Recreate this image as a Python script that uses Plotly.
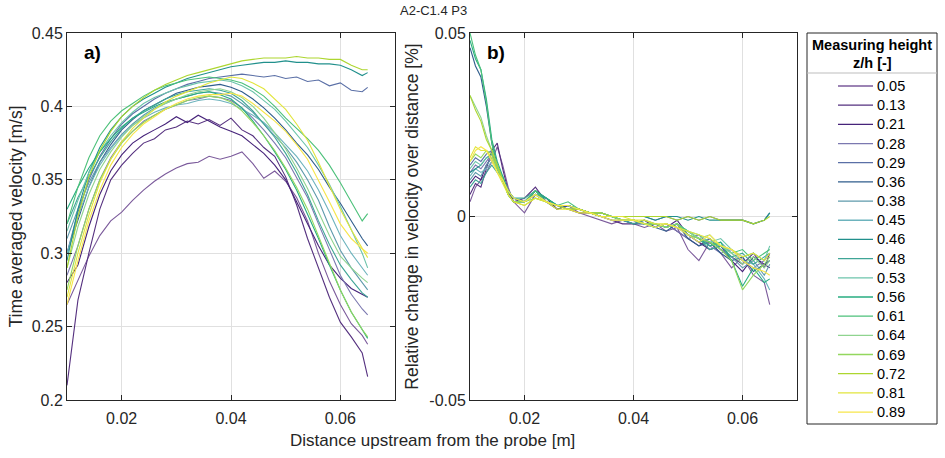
import plotly.graph_objects as go

# ---------------- data ----------------
heights = ["0.05", "0.13", "0.21", "0.28", "0.29", "0.36", "0.38", "0.45", "0.46",
           "0.48", "0.53", "0.56", "0.61", "0.64", "0.69", "0.72", "0.81", "0.89"]

x_a = [0.010, 0.012, 0.014, 0.016, 0.018, 0.020, 0.022, 0.024, 0.026, 0.028,
       0.030, 0.032, 0.034, 0.036, 0.038, 0.040, 0.042, 0.044, 0.046, 0.048,
       0.050, 0.052, 0.054, 0.056, 0.058, 0.060, 0.062, 0.064, 0.065]

vel = [
    [0.265,0.282,0.298,0.312,0.322,0.328,0.336,0.343,0.349,0.354,0.358,0.361,0.362,0.366,0.364,0.366,0.369,0.361,0.351,0.356,0.349,0.338,0.322,0.300,0.281,0.265,0.252,0.244,0.238],
    [0.210,0.268,0.300,0.330,0.350,0.360,0.368,0.375,0.378,0.384,0.386,0.390,0.388,0.391,0.387,0.392,0.384,0.380,0.372,0.366,0.352,0.333,0.310,0.290,0.270,0.253,0.243,0.232,0.216],
    [0.280,0.292,0.318,0.340,0.356,0.367,0.375,0.380,0.384,0.388,0.393,0.389,0.394,0.390,0.386,0.383,0.380,0.374,0.368,0.360,0.350,0.335,0.320,0.305,0.292,0.283,0.276,0.272,0.270],
    [0.285,0.305,0.330,0.350,0.365,0.376,0.383,0.390,0.394,0.398,0.401,0.404,0.405,0.407,0.406,0.404,0.399,0.392,0.384,0.375,0.365,0.352,0.338,0.320,0.302,0.285,0.272,0.262,0.258],
    [0.300,0.328,0.350,0.366,0.378,0.388,0.395,0.400,0.405,0.409,0.412,0.415,0.417,0.419,0.420,0.421,0.422,0.421,0.420,0.421,0.419,0.420,0.417,0.418,0.414,0.416,0.411,0.410,0.413],
    [0.300,0.322,0.345,0.362,0.374,0.384,0.391,0.397,0.401,0.405,0.409,0.411,0.413,0.414,0.415,0.413,0.410,0.405,0.399,0.392,0.384,0.375,0.367,0.357,0.345,0.334,0.322,0.310,0.305],
    [0.310,0.330,0.348,0.362,0.372,0.381,0.388,0.394,0.399,0.402,0.405,0.407,0.409,0.410,0.409,0.407,0.402,0.396,0.388,0.380,0.372,0.362,0.350,0.336,0.318,0.302,0.290,0.280,0.275],
    [0.300,0.325,0.345,0.360,0.371,0.380,0.387,0.392,0.396,0.399,0.401,0.402,0.404,0.405,0.404,0.402,0.398,0.394,0.389,0.382,0.374,0.366,0.356,0.343,0.328,0.312,0.300,0.290,0.285],
    [0.295,0.330,0.355,0.372,0.384,0.393,0.400,0.405,0.409,0.413,0.416,0.419,0.421,0.423,0.425,0.427,0.428,0.429,0.430,0.430,0.431,0.430,0.430,0.429,0.429,0.428,0.425,0.421,0.423],
    [0.320,0.338,0.352,0.365,0.376,0.385,0.392,0.397,0.401,0.405,0.408,0.410,0.411,0.412,0.411,0.409,0.404,0.397,0.388,0.379,0.368,0.355,0.340,0.322,0.306,0.292,0.282,0.273,0.270],
    [0.315,0.336,0.355,0.369,0.380,0.389,0.396,0.402,0.406,0.409,0.412,0.414,0.416,0.417,0.418,0.417,0.414,0.410,0.404,0.398,0.390,0.381,0.372,0.360,0.347,0.332,0.316,0.300,0.290],
    [0.330,0.345,0.358,0.369,0.378,0.386,0.392,0.396,0.400,0.403,0.405,0.407,0.409,0.410,0.408,0.405,0.399,0.390,0.380,0.369,0.357,0.343,0.327,0.310,0.292,0.275,0.260,0.248,0.242],
    [0.320,0.345,0.365,0.380,0.390,0.397,0.402,0.407,0.411,0.414,0.416,0.418,0.419,0.420,0.419,0.418,0.416,0.412,0.407,0.400,0.392,0.385,0.378,0.370,0.360,0.348,0.335,0.322,0.327],
    [0.290,0.318,0.340,0.357,0.369,0.379,0.387,0.393,0.398,0.402,0.405,0.408,0.410,0.411,0.412,0.410,0.406,0.400,0.392,0.382,0.371,0.358,0.344,0.328,0.312,0.298,0.290,0.283,0.280],
    [0.275,0.305,0.330,0.350,0.364,0.375,0.383,0.389,0.394,0.398,0.401,0.404,0.406,0.407,0.406,0.403,0.397,0.389,0.380,0.370,0.358,0.345,0.330,0.312,0.293,0.275,0.260,0.248,0.243],
    [0.290,0.325,0.352,0.370,0.383,0.393,0.400,0.406,0.411,0.415,0.418,0.421,0.423,0.425,0.427,0.429,0.431,0.432,0.433,0.433,0.433,0.434,0.433,0.433,0.432,0.432,0.428,0.425,0.425],
    [0.270,0.300,0.326,0.348,0.364,0.376,0.385,0.392,0.398,0.403,0.407,0.410,0.413,0.416,0.418,0.420,0.419,0.416,0.412,0.405,0.398,0.388,0.377,0.362,0.346,0.330,0.316,0.303,0.297],
    [0.265,0.295,0.322,0.343,0.360,0.372,0.381,0.388,0.393,0.398,0.402,0.405,0.407,0.408,0.408,0.409,0.407,0.402,0.396,0.390,0.383,0.374,0.364,0.350,0.335,0.320,0.310,0.303,0.300],
]

x_b = [0.010, 0.011, 0.012, 0.013, 0.014, 0.015, 0.016, 0.017, 0.018, 0.020,
       0.022, 0.024, 0.026, 0.028, 0.030, 0.032, 0.034, 0.036, 0.038, 0.040,
       0.042, 0.044, 0.046, 0.048, 0.050, 0.052, 0.054, 0.056, 0.058, 0.060,
       0.062, 0.064, 0.065]

rel = [
    [0.004,0.008,0.010,0.012,0.015,0.019,0.014,0.008,0.004,0.001,0.006,0.004,0.002,0.003,0.001,0.000,-0.001,-0.002,-0.001,-0.002,-0.003,-0.002,-0.004,-0.003,-0.009,-0.012,-0.007,-0.010,-0.014,-0.011,-0.016,-0.018,-0.024],
    [0.006,0.009,0.008,0.013,0.018,0.020,0.013,0.007,0.004,0.005,0.008,0.004,0.003,0.002,0.001,0.001,0.000,-0.001,-0.002,-0.002,-0.001,-0.003,-0.002,-0.004,-0.006,-0.008,-0.006,-0.009,-0.011,-0.013,-0.010,-0.014,-0.010],
    [0.009,0.011,0.010,0.014,0.016,0.013,0.010,0.006,0.005,0.004,0.007,0.005,0.002,0.003,0.002,0.001,0.000,0.000,-0.001,-0.001,-0.002,-0.002,-0.003,-0.001,-0.005,-0.007,-0.009,-0.008,-0.012,-0.015,-0.011,-0.013,-0.014],
    [0.012,0.014,0.013,0.015,0.017,0.014,0.010,0.007,0.005,0.004,0.006,0.004,0.003,0.003,0.002,0.001,0.001,0.000,-0.001,-0.001,-0.002,-0.003,-0.002,-0.004,-0.006,-0.005,-0.008,-0.010,-0.009,-0.012,-0.014,-0.012,-0.010],
    [0.014,0.016,0.015,0.017,0.018,0.014,0.010,0.006,0.004,0.004,0.006,0.004,0.003,0.002,0.002,0.001,0.001,0.000,0.000,0.000,0.000,-0.001,0.000,-0.001,0.000,-0.001,0.000,-0.001,-0.001,-0.001,-0.002,-0.001,0.001],
    [0.046,0.041,0.038,0.030,0.020,0.014,0.010,0.006,0.004,0.004,0.007,0.004,0.002,0.003,0.002,0.001,0.000,0.000,-0.001,-0.002,-0.002,-0.003,-0.004,-0.002,-0.006,-0.008,-0.007,-0.010,-0.012,-0.011,-0.015,-0.013,-0.012],
    [0.010,0.012,0.011,0.014,0.016,0.013,0.010,0.007,0.005,0.004,0.006,0.005,0.003,0.003,0.002,0.001,0.000,0.000,-0.001,-0.001,-0.002,-0.003,-0.002,-0.003,-0.005,-0.007,-0.006,-0.009,-0.011,-0.014,-0.012,-0.016,-0.013],
    [0.011,0.013,0.012,0.013,0.015,0.013,0.011,0.007,0.005,0.004,0.006,0.004,0.003,0.003,0.002,0.001,0.000,-0.001,-0.001,-0.001,-0.002,-0.002,-0.003,-0.002,-0.004,-0.006,-0.008,-0.007,-0.010,-0.012,-0.013,-0.017,-0.020],
    [0.012,0.013,0.014,0.016,0.017,0.014,0.010,0.006,0.004,0.004,0.006,0.005,0.003,0.003,0.002,0.001,0.001,0.000,0.000,0.000,0.000,-0.001,0.000,0.000,-0.001,0.000,-0.001,-0.001,-0.001,-0.001,-0.002,-0.001,0.001],
    [0.008,0.010,0.009,0.012,0.014,0.012,0.010,0.007,0.005,0.005,0.007,0.005,0.003,0.003,0.002,0.001,0.000,0.000,-0.001,-0.002,-0.001,-0.002,-0.003,-0.002,-0.005,-0.006,-0.009,-0.008,-0.011,-0.010,-0.013,-0.011,-0.010],
    [0.013,0.015,0.014,0.016,0.016,0.013,0.010,0.007,0.005,0.004,0.006,0.004,0.003,0.003,0.002,0.001,0.001,0.000,-0.001,-0.001,-0.002,-0.002,-0.003,-0.002,-0.004,-0.005,-0.007,-0.006,-0.009,-0.011,-0.010,-0.012,-0.008],
    [0.048,0.043,0.040,0.032,0.021,0.015,0.011,0.007,0.005,0.004,0.007,0.005,0.003,0.003,0.002,0.001,0.001,0.000,-0.001,-0.001,-0.002,-0.003,-0.002,-0.003,-0.004,-0.006,-0.008,-0.007,-0.012,-0.019,-0.014,-0.018,-0.017],
    [0.050,0.044,0.040,0.031,0.020,0.013,0.010,0.006,0.004,0.004,0.007,0.004,0.003,0.004,0.002,0.001,0.000,0.000,-0.001,-0.001,-0.002,-0.002,-0.003,-0.002,-0.004,-0.006,-0.007,-0.008,-0.010,-0.009,-0.012,-0.010,-0.009],
    [0.033,0.030,0.027,0.022,0.018,0.014,0.010,0.006,0.004,0.004,0.006,0.004,0.003,0.003,0.002,0.001,0.001,0.000,-0.001,-0.001,-0.002,-0.003,-0.002,-0.003,-0.004,-0.006,-0.005,-0.008,-0.010,-0.013,-0.011,-0.014,-0.012],
    [0.015,0.017,0.016,0.018,0.017,0.013,0.010,0.006,0.004,0.004,0.005,0.004,0.003,0.002,0.002,0.001,0.000,0.000,-0.001,-0.001,-0.002,-0.002,-0.003,-0.002,-0.005,-0.006,-0.007,-0.009,-0.012,-0.020,-0.016,-0.013,-0.011],
    [0.033,0.029,0.026,0.021,0.018,0.014,0.010,0.006,0.004,0.003,0.005,0.004,0.003,0.002,0.002,0.001,0.001,0.000,0.000,0.000,0.000,0.000,0.000,-0.001,0.000,-0.001,0.000,-0.001,-0.001,-0.001,-0.002,-0.001,0.000],
    [0.016,0.019,0.018,0.018,0.016,0.012,0.009,0.006,0.004,0.003,0.005,0.004,0.002,0.002,0.001,0.001,0.000,0.000,0.000,-0.001,-0.001,-0.002,-0.002,-0.003,-0.004,-0.005,-0.006,-0.008,-0.009,-0.011,-0.010,-0.012,-0.010],
    [0.015,0.018,0.019,0.018,0.015,0.012,0.010,0.007,0.005,0.004,0.006,0.004,0.003,0.003,0.002,0.001,0.000,-0.001,-0.001,-0.001,-0.002,-0.003,-0.002,-0.003,-0.005,-0.007,-0.005,-0.008,-0.009,-0.012,-0.014,-0.015,-0.016],
]

x_ticks = [0.02, 0.04, 0.06]
x_ticklabels = ["0.02", "0.04", "0.06"]
y1_ticks = [0.2, 0.25, 0.3, 0.35, 0.4, 0.45]
y1_ticklabels = ["0.2", "0.25", "0.3", "0.35", "0.4", "0.45"]
y2_ticks = [-0.05, 0, 0.05]
y2_ticklabels = ["-0.05", "0", "0.05"]

# ---------------- style ----------------
colors = ['#7b5a9b', '#55307f', '#46237a', '#7b78b0', '#5a6fa6', '#2f5d8c',
          '#5e9aab', '#6db3bd', '#21908c', '#3fa596', '#6cc4ab', '#27ad81',
          '#4cc17a', '#8fd48f', '#93d75e', '#add62f', '#e2e53c', '#f7e64a']

W, H = 945, 458
FONT = "Liberation Sans, Arial, Helvetica, sans-serif"
AX = '#262626'
GRID = '#e0e0e0'


def px_x(p):
    return p / W


def px_y(p):
    return 1 - p / H


fig = go.Figure()
for i, h in enumerate(heights):
    fig.add_trace(go.Scatter(x=x_a, y=vel[i], mode='lines', name=h,
                             line=dict(color=colors[i], width=1.1),
                             xaxis='x', yaxis='y', legendgroup=h, showlegend=False))
for i, h in enumerate(heights):
    fig.add_trace(go.Scatter(x=x_b, y=rel[i], mode='lines', name=h,
                             line=dict(color=colors[i], width=1.1),
                             xaxis='x2', yaxis='y2', legendgroup=h, showlegend=False))

axis_common = dict(showline=True, linecolor=AX, linewidth=1, mirror='ticks',
                   ticks='inside', ticklen=5, tickcolor=AX, showgrid=True,
                   gridcolor=GRID, gridwidth=1, zeroline=False, automargin=False,
                   tickfont=dict(family=FONT, size=16, color=AX))

fig.update_layout(
    width=W, height=H, autosize=False,
    margin=dict(l=0, r=0, t=0, b=0, autoexpand=False),
    paper_bgcolor='white', plot_bgcolor='white',
    font=dict(family=FONT, color=AX),
    showlegend=False,
    xaxis=dict(domain=[px_x(67), px_x(395)], range=[0.01, 0.07], anchor='y',
               tickvals=x_ticks, ticktext=x_ticklabels, ticklabelstandoff=4, **axis_common),
    yaxis=dict(domain=[px_y(400), px_y(33)], range=[0.2, 0.45], anchor='x',
               tickvals=y1_ticks, ticktext=y1_ticklabels,
               title=dict(text="Time averaged velocity [m/s]", standoff=4,
                          font=dict(family=FONT, size=17.5, color=AX)),
               **axis_common),
    xaxis2=dict(domain=[px_x(470), px_x(797)], range=[0.01, 0.07], anchor='y2',
                tickvals=x_ticks, ticktext=x_ticklabels, ticklabelstandoff=4, **axis_common),
    yaxis2=dict(domain=[px_y(400), px_y(33)], range=[-0.05, 0.05], anchor='x2',
                tickvals=y2_ticks, ticktext=y2_ticklabels,
                title=dict(text="Relative change in velocity over distance [%]", standoff=6,
                           font=dict(family=FONT, size=17.5, color=AX)),
                **axis_common),
)

# ---------------- legend box (drawn from heights / colors) ----------------
LEG_X0, LEG_X1, LEG_Y0, LEG_Y1 = 807, 937, 33, 424
ROW0, ROW_STEP = 86, 19.18
fig.add_shape(type='rect', xref='paper', yref='paper',
              x0=px_x(LEG_X0), x1=px_x(LEG_X1), y0=px_y(LEG_Y1), y1=px_y(LEG_Y0),
              line=dict(color=AX, width=1), fillcolor='rgba(0,0,0,0)')
fig.add_shape(type='line', xref='paper', yref='paper',
              x0=px_x(LEG_X0), x1=px_x(LEG_X1), y0=px_y(73), y1=px_y(73),
              line=dict(color='#bdbdbd', width=1))
fig.add_annotation(xref='paper', yref='paper', x=px_x(872), y=px_y(45),
                   xanchor='center', yanchor='middle',
                   text="<b>Measuring height</b>", showarrow=False,
                   font=dict(family=FONT, size=14.5, color='#000'))
fig.add_annotation(xref='paper', yref='paper', x=px_x(872), y=px_y(63),
                   xanchor='center', yanchor='middle',
                   text="<b>z/h [-]</b>", showarrow=False,
                   font=dict(family=FONT, size=14.5, color='#000'))
for i, (h, c) in enumerate(zip(heights, colors)):
    yy = px_y(ROW0 + i * ROW_STEP)
    fig.add_shape(type='line', xref='paper', yref='paper',
                  x0=px_x(838), x1=px_x(873), y0=yy, y1=yy,
                  line=dict(color=c, width=1.3))
    fig.add_annotation(xref='paper', yref='paper', x=px_x(875), y=yy,
                       xanchor='left', yanchor='middle', text=h, showarrow=False,
                       font=dict(family=FONT, size=14.5, color='#000'))

# ---------------- titles and panel labels ----------------
fig.add_annotation(xref='paper', yref='paper', x=px_x(433), y=px_y(10),
                   xanchor='center', yanchor='middle',
                   text="A2-C1.4 P3", showarrow=False,
                   font=dict(family=FONT, size=13, color=AX))
fig.add_annotation(xref='paper', yref='paper', x=px_x(432), y=px_y(440),
                   xanchor='center', yanchor='middle',
                   text="Distance upstream from the probe [m]", showarrow=False,
                   font=dict(family=FONT, size=17, color=AX))
fig.add_annotation(xref='paper', yref='paper', x=px_x(82), y=px_y(52),
                   xanchor='left', yanchor='middle',
                   text="<b>a)</b>", showarrow=False,
                   font=dict(family=FONT, size=19, color='#000'))
fig.add_annotation(xref='paper', yref='paper', x=px_x(485), y=px_y(52),
                   xanchor='left', yanchor='middle',
                   text="<b>b)</b>", showarrow=False,
                   font=dict(family=FONT, size=19, color='#000'))

fig.write_html("out.html", config={"displayModeBar": False},
               post_script="document.body.style.margin='0';")
